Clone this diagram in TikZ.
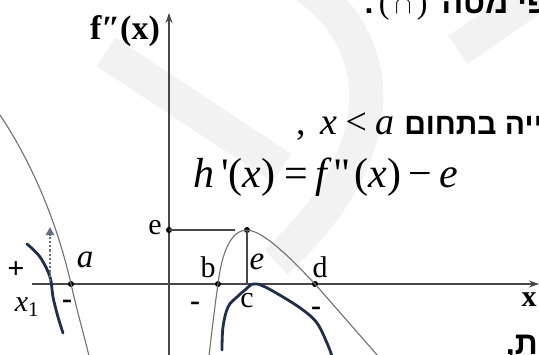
\documentclass[tikz,border=0pt]{standalone}
\usepackage{fontspec}
\setmainfont{Liberation Serif}
\newfontfamily\eqfont{Liberation Serif}
\newfontfamily\hebfont[Script=Hebrew]{Liberation Sans}
\TeXXeTstate=1
\usetikzlibrary{arrows.meta}
\definecolor{axis-gray}{HTML}{474747}
\definecolor{curve-gray}{HTML}{707070}
\definecolor{ink-navy}{HTML}{1F2E4A}
\definecolor{mark-gray}{HTML}{F2F2F2}

\begin{document}
\begin{tikzpicture}[x=1pt, y=-1pt,
    every node/.style={inner sep=0pt},
    axis/.style={draw=axis-gray, line width=1.3pt, -{Stealth[length=10pt, width=7pt]}},
    graph/.style={draw=curve-gray, line width=1.1pt},
    guide/.style={draw=axis-gray, line width=1.4pt},
    ink/.style={draw=ink-navy, line width=2.8pt, line cap=round, line join=round},
    band/.style={draw=mark-gray, line width=34pt},
    dot/.style={circle, fill=black, minimum size=6pt},
    lbl/.style={font=\fontsize{30}{30}\selectfont},
    ital/.style={font=\itshape\fontsize{33}{33}\selectfont},
    sign/.style={font=\bfseries\fontsize{30}{30}\selectfont},
    heb/.style={font=\hebfont\bfseries\fontsize{32}{32}\selectfont}]
      \fill[white] (0,0) rectangle (539,354);
      \useasboundingbox (0,0) rectangle (539,354);
      \draw[band] (106,52) -- (282,168);
      \draw[band] (296,-20) .. controls (388,35) and (398,150) .. (276,262);
      \draw[band] (458,50) -- (550,-14);
      \node[heb, anchor=base east] (t1) at (548,13) {.\,{\eqfont\mdseries\fontsize{32}{32}\selectfont(\,$\cap$\,)}\hspace{14pt}\beginR פי מטה\endR};
      \node[heb, anchor=base east, font=\hebfont\bfseries\fontsize{30}{30}\selectfont] (t2) at (543,134) {{\eqfont\mdseries\fontsize{38}{38}\selectfont ,\hspace{14pt}\itshape x\,<\,a}\hspace{10pt}\beginR ייה בתחום\endR};
      \node[anchor=base west, font=\eqfont\fontsize{42}{42}\selectfont] (eq) at (193,187) {\itshape h\upshape\,'(\itshape x\upshape)\hspace{9pt}=\hspace{7pt}\itshape f\upshape\hspace{7pt}"\hspace{4pt}(\itshape x\upshape)\hspace{7pt}−\hspace{7pt}\itshape e};
      \node[heb, anchor=base east] (t3) at (538,354) {\beginR ת,\endR};
      \coordinate (xs) at (32,284);
      \coordinate (xe) at (539,284);
      \coordinate (ys) at (169,356);
      \coordinate (ye) at (169,13);
      \draw[axis] (xs) -- (xe);
      \draw[axis] (ys) -- (ye);
      \node[dot] (a) at (71,284) {};
      \node[dot] (b) at (218,284) {};
      \node[dot] (d) at (315,284) {};
      \node[dot] (top) at (247,230) {};
      \node[dot] (ey) at (169,230) {};
      \coordinate (foot) at (247,284);
      \coordinate (hend) at (235,230);
      \coordinate (l1) at (0,115);
      \coordinate (l2) at (89,356);
      \coordinate (m1) at (209,356);
      \coordinate (m2) at (378,356);
      \draw[graph] (l1) .. controls (38,172) and (60,235) .. (a.center) .. controls (78,315) and (84,335) .. (l2);
      \draw[graph] (m1) .. controls (212,330) and (215,305) .. (b.center) .. controls (222,250) and (232,230) .. (top.center) .. controls (262,231) and (285,252) .. (d.center) -- (m2);
      \draw[guide] (ey.center) -- (hend);
      \draw[guide] (top.center) -- (foot);
      \draw[ink] plot[smooth, tension=0.6] coordinates {(27,244) (40,257) (50,277) (53,297) (58,317) (63,333)};
      \draw[ink] plot[smooth, tension=0.6] coordinates {(222,350) (223,327) (228,307) (237,297) (245,290) (253,284) (263,286) (283,297) (303,310) (317,323) (327,343) (332,356)};
      \coordinate (p1) at (50,281);
      \coordinate (p2) at (50,227);
      \draw[draw=ink-navy!70, line width=2.2pt, dotted, -{Triangle[length=8pt, width=8pt]}] (p1) -- (p2);
      \node[font=\bfseries\fontsize{34}{34}\selectfont] (fx) at (125,31) {f″(x)};
      \node[lbl] (el) at (155,228) {e};
      \node[lbl] (bl) at (208,267) {b};
      \node[lbl] (dl) at (320,267) {d};
      \node[lbl] (cl) at (247,301) {c};
      \node[lbl, font=\bfseries\fontsize{30}{30}\selectfont] (xl) at (529,300) {x};
      \node[ital] (al) at (85,260) {a};
      \node[ital] (il) at (257,262) {e};
      \node[font=\itshape\fontsize{30}{30}\selectfont] (x1) at (27,307) {x\textsubscript{\upshape 1}};
      \node[sign] (plus) at (16,270) {+};
      \node[sign] (m1l) at (67,304) {-};
      \node[sign] (m2l) at (195,306) {-};
      \node[sign] (m3l) at (316,311) {-};
    \end{tikzpicture}
\end{document}
